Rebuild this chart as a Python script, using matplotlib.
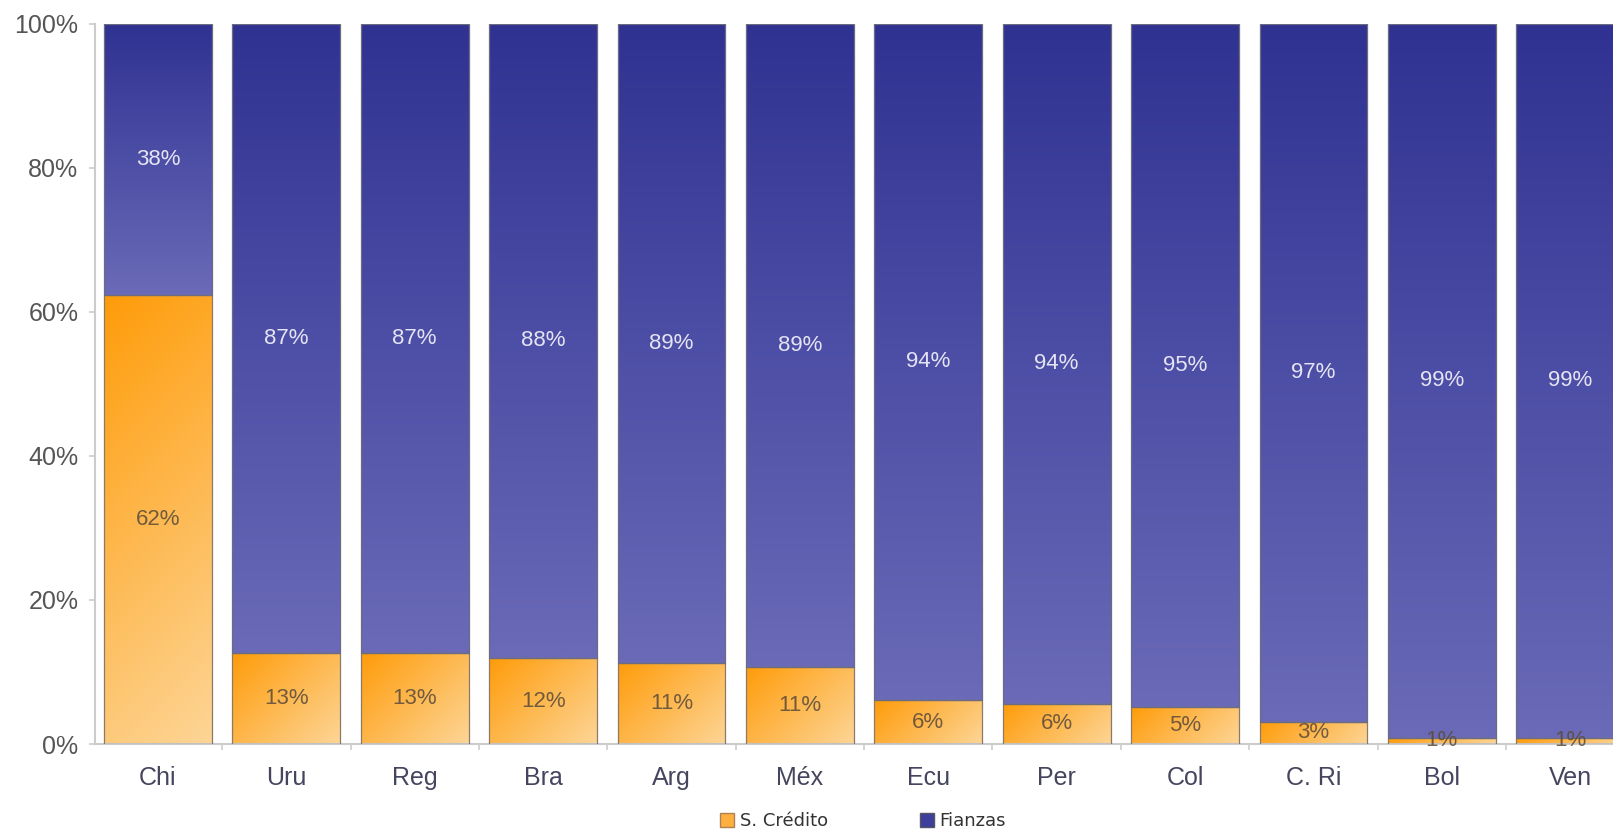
import numpy as np
import matplotlib
matplotlib.use("Agg")
import matplotlib.pyplot as plt
from matplotlib.colors import to_rgb
from matplotlib.patches import Patch

plt.rcParams['font.family'] = ['Liberation Sans', 'DejaVu Sans']

countries = ['Chi', 'Uru', 'Reg', 'Bra', 'Arg', 'Méx', 'Ecu', 'Per', 'Col', 'C. Ri', 'Bol', 'Ven']
credito = [62.3, 12.6, 12.6, 11.9, 11.3, 10.7, 6.1, 5.6, 5.1, 3.1, 0.9, 0.9]
fianzas = [100 - v for v in credito]
series_names = ['S. Crédito', 'Fianzas']
y_ticks = [0, 20, 40, 60, 80, 100]

BLUE_TOP = np.array(to_rgb('#303292'))
BLUE_BOT = np.array(to_rgb('#6a6ab8'))
ORANGE_A = np.array(to_rgb('#ff9c0a'))
ORANGE_B = np.array(to_rgb('#fdd596'))

BAR_W = 0.84
PX_PER_X = 128.0
PX_PER_Y = 7.2


def gradient_rect(ax, x0, x1, y0, y1, diagonal):
    n = 80
    xx, yy = np.meshgrid(np.linspace(0, 1, n), np.linspace(0, 1, n))
    if diagonal:
        w = (x1 - x0) * PX_PER_X
        h = max((y1 - y0) * PX_PER_Y, 1.0)
        t = (xx * w + yy * h) / (w + h)
        img = ORANGE_A + (ORANGE_B - ORANGE_A) * t[..., None]
    else:
        t = yy
        img = BLUE_TOP + (BLUE_BOT - BLUE_TOP) * t[..., None]
    ax.imshow(img, extent=(x0, x1, y0, y1), origin='upper', aspect='auto',
              interpolation='bilinear', zorder=2)


fig = plt.figure(figsize=(16.13, 8.30), dpi=100)
ax = fig.add_axes([95 / 1613, 1 - 744 / 830, 1 - 95 / 1613, (744 - 23.7) / 830])

x = np.arange(len(countries))
for i, (c, f) in enumerate(zip(credito, fianzas)):
    x0, x1 = i - BAR_W / 2, i + BAR_W / 2
    gradient_rect(ax, x0, x1, 0, c, diagonal=True)
    gradient_rect(ax, x0, x1, c, c + f, diagonal=False)

ax.bar(x, credito, width=BAR_W, facecolor='none', edgecolor='#8c7a66', linewidth=0.9, zorder=3)
ax.bar(x, fianzas, bottom=credito, width=BAR_W, facecolor='none', edgecolor='#6c6c80',
       linewidth=0.9, zorder=3)

for i, (c, f) in enumerate(zip(credito, fianzas)):
    ax.text(i, c / 2, f"{round(c)}%", ha='center', va='center', fontsize=16,
            color='#5a4a3a', alpha=0.85, zorder=4)
    ax.text(i, c + f / 2, f"{round(f)}%", ha='center', va='center', fontsize=16,
            color='#e4e4f4', zorder=4)

ax.set_yticks(y_ticks)
ax.set_yticklabels([f"{v}%" for v in y_ticks])
ax.set_xticks(x)
ax.set_xticklabels(countries)
ax.set_xticks(np.arange(-0.5, len(countries) - 1, 1.0), minor=True)

ax.set_xlim(-0.49, 11.333)
ax.set_ylim(0, 100)

ax.tick_params(axis='y', length=4, width=1.2, color='#cccccc', pad=8,
               labelsize=18, labelcolor='#555555')
ax.tick_params(axis='x', which='major', length=0, pad=16, labelsize=18, labelcolor='#45455f')
ax.tick_params(axis='x', which='minor', length=4, width=1.2, color='#cccccc')

for side in ['top', 'right']:
    ax.spines[side].set_visible(False)
for side in ['left', 'bottom']:
    ax.spines[side].set_color('#cccccc')
    ax.spines[side].set_linewidth(1.5)

handles = [Patch(facecolor='#fdb040', edgecolor='#b08050', label=series_names[0]),
           Patch(facecolor='#3d3f9c', edgecolor='#555566', label=series_names[1])]
fig.legend(handles=handles, loc='center', bbox_to_anchor=(0.535, 0.011), ncol=2,
           frameon=False, handlelength=0.8, handleheight=0.8,
           handletextpad=0.3, columnspacing=5.1, labelcolor='#333333',
           prop={'family': 'DejaVu Sans', 'size': 13})

fig.savefig('out.png', dpi=100)
